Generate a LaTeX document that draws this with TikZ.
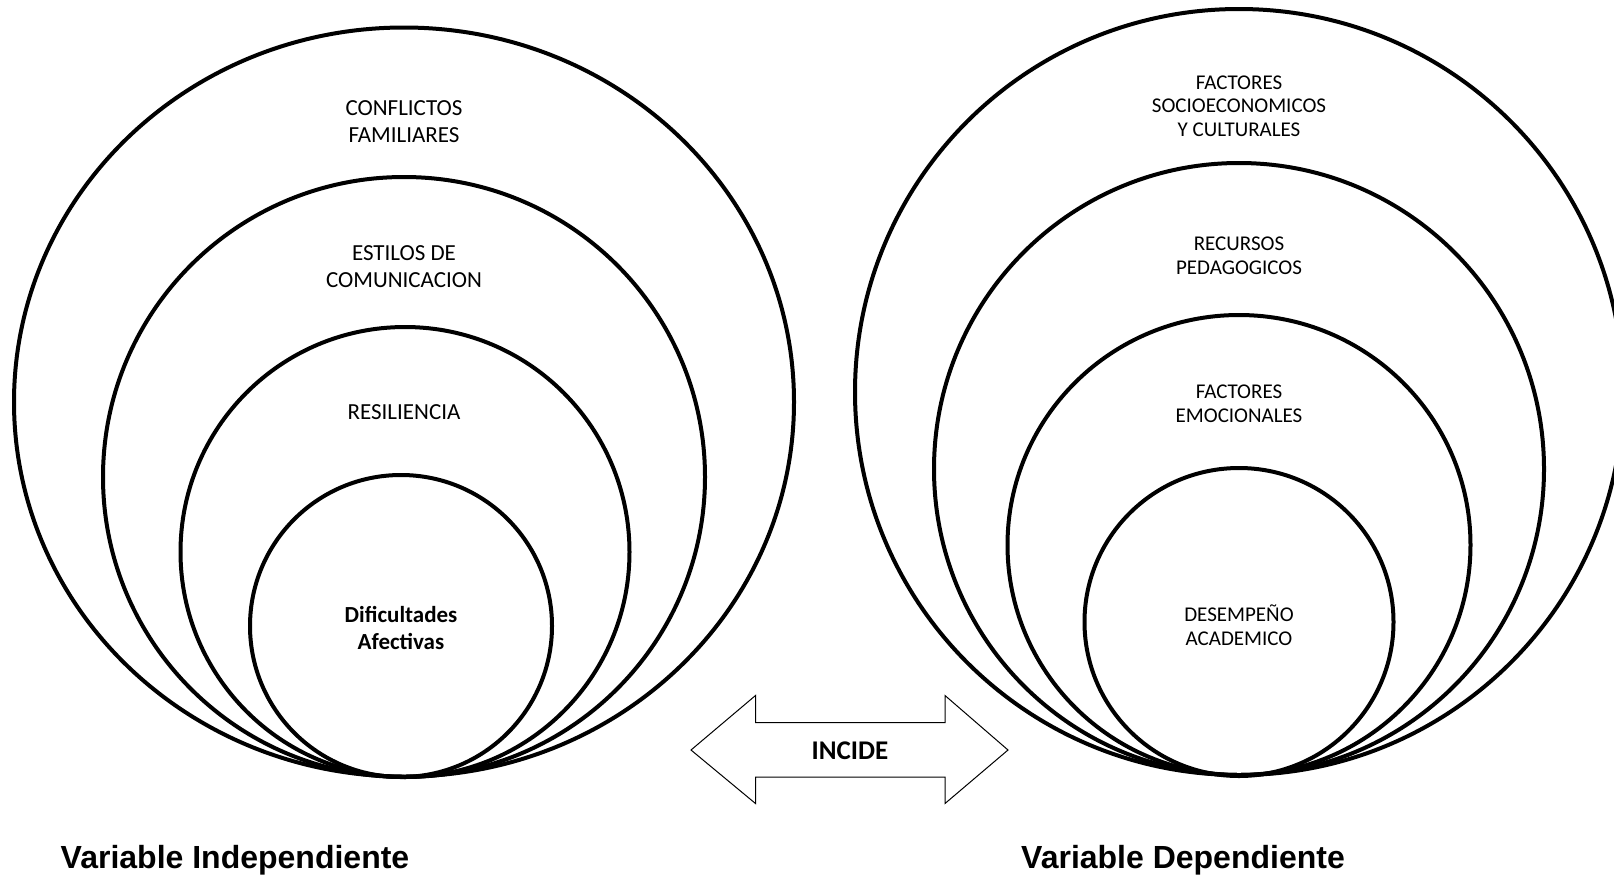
\documentclass[tikz,border=0pt]{standalone}
\usepackage{fontspec}
\setmainfont{Carlito}
\newfontfamily\arialfont{Liberation Sans}
\usetikzlibrary{shapes.geometric}
\begin{document}
\begin{tikzpicture}[x=1pt,y=-1pt,
  ring/.style={draw,line width=4pt,ellipse,inner sep=0pt},
  lbl/.style={align=center,inner sep=0pt,font=\fontsize{23}{26.8}\selectfont},
  rlbl/.style={align=center,inner sep=0pt,font=\fontsize{21}{23.7}\selectfont},
  varlbl/.style={inner sep=0pt,font=\arialfont\bfseries\fontsize{32}{36}\selectfont}]
\clip (0,0) rectangle (1614,879);
\fill[white] (0,0) rectangle (1614,879);
% left rings
\node[ring,minimum width=780pt,minimum height=749pt] (L1) at (404,402) {};
\node[ring,minimum width=602pt,minimum height=600pt] (L2) at (404,477) {};
\node[ring,minimum width=449pt,minimum height=450pt] (L3) at (405,552) {};
\node[ring,minimum width=302pt,minimum height=302pt] (L4) at (401,626) {};
% right rings
\node[ring,minimum width=768pt,minimum height=766pt] (R1) at (1239,392) {};
\node[ring,minimum width=610pt,minimum height=612pt] (R2) at (1239,469) {};
\node[ring,minimum width=463pt,minimum height=460pt] (R3) at (1239,545) {};
\node[ring,minimum width=309pt,minimum height=308pt] (R4) at (1239,622) {};
% left labels
\node[lbl] (t1) at (404,122) {CONFLICTOS\\FAMILIARES};
\node[lbl] (t2) at (404,267) {ESTILOS DE\\COMUNICACION};
\node[lbl] (t3) at (404,412) {RESILIENCIA};
\node[lbl,font=\bfseries\fontsize{23}{26.8}\selectfont] (t4) at (401,628) {Dificultades\\Afectivas};
% right labels
\node[rlbl] (u1) at (1239,106) {FACTORES\\SOCIOECONOMICOS\\Y CULTURALES};
\node[rlbl] (u2) at (1239,256) {RECURSOS\\PEDAGOGICOS};
\node[rlbl] (u3) at (1239,404) {FACTORES\\EMOCIONALES};
\node[rlbl] (u4) at (1239,625) {DESEMPEÑO\\ACADEMICO};
% double arrow
\draw[line width=1pt,line join=miter] (691,750) -- (755.5,695.5) -- (755.5,722.5) -- (945,722.5) -- (945,695.5) -- (1008,750) -- (945,803.5) -- (945,777) -- (755.5,777) -- (755.5,803.5) -- cycle;
\node[inner sep=0pt,font=\bfseries\fontsize{27}{30}\selectfont] (inc) at (850,751) {INCIDE};
% bottom labels
\node[varlbl] (vi) at (235,860) {Variable Independiente};
\node[varlbl] (vd) at (1183,860) {Variable Dependiente};
\end{tikzpicture}
\end{document}
